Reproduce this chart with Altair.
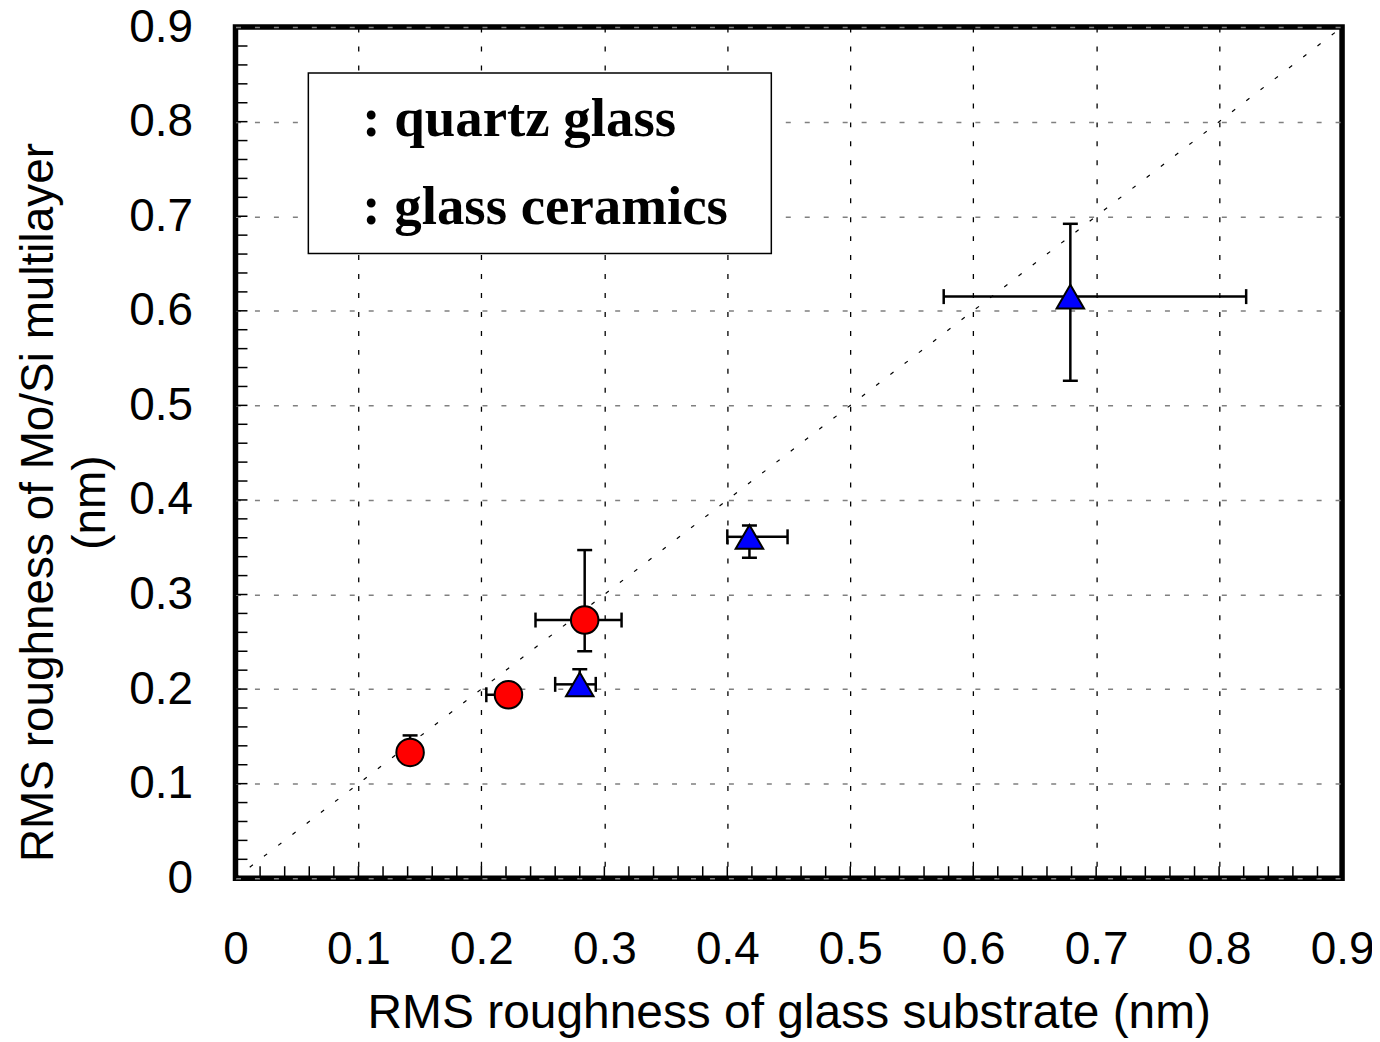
import altair as alt
import pandas as pd

# ---- data ----
quartz_x = [0.142, 0.222, 0.284]
quartz_y = [0.133, 0.194, 0.273]
quartz_xlo = [None, 0.204, 0.244]
quartz_xhi = [None, None, 0.314]
quartz_ylo = [None, None, 0.240]
quartz_yhi = [0.151, None, 0.347]

ceramics_x = [0.280, 0.418, 0.679]
ceramics_y = [0.205, 0.361, 0.615]
ceramics_xlo = [0.260, 0.400, 0.576]
ceramics_xhi = [0.293, 0.449, 0.822]
ceramics_ylo = [None, 0.339, 0.526]
ceramics_yhi = [0.221, 0.373, 0.692]

axis_values = [0, 0.1, 0.2, 0.3, 0.4, 0.5, 0.6, 0.7, 0.8, 0.9]
minor_ticks = [round(0.02 * i, 2) for i in range(1, 45)]
diag_line = [0.0, 0.9]
legend_labels = [": quartz glass", ": glass ceramics"]

x_title = "RMS roughness of glass substrate (nm)"
y_title = ["RMS roughness of Mo/Si multilayer", "(nm)"]

W, H = 1109, 853
FONT = "Liberation Sans"

# ---- tables ----
series = [
    ("quartz glass", quartz_x, quartz_y, quartz_xlo, quartz_xhi, quartz_ylo, quartz_yhi),
    ("glass ceramics", ceramics_x, ceramics_y, ceramics_xlo, ceramics_xhi, ceramics_ylo, ceramics_yhi),
]
pts, hbars, vbars, hcaps, vcaps = [], [], [], [], []
for name, xs_, ys_, xlo, xhi, ylo, yhi in series:
    for i in range(len(xs_)):
        x, y = xs_[i], ys_[i]
        pts.append({"s": name, "x": x, "y": y})
        for e in (xlo[i], xhi[i]):
            if e is not None:
                hbars.append({"x": x, "x2": e, "y": y})
                hcaps.append({"x": e, "y": y})
        for e in (ylo[i], yhi[i]):
            if e is not None:
                vbars.append({"x": x, "y": y, "y2": e})
                vcaps.append({"x": x, "y": e})

pts = pd.DataFrame(pts)
hbars = pd.DataFrame(hbars)
vbars = pd.DataFrame(vbars)
hcaps = pd.DataFrame(hcaps)
vcaps = pd.DataFrame(vcaps)
diag = pd.DataFrame({"x": [diag_line[0]], "y": [diag_line[0]], "x2": [diag_line[1]], "y2": [diag_line[1]]})
ticks = pd.DataFrame({"t": minor_ticks})
one = pd.DataFrame({"a": [0]})

xs = alt.Scale(domain=[0, 0.9], nice=False, zero=False)
ys = alt.Scale(domain=[0, 0.9], nice=False, zero=False)
lab = "datum.value == 0 ? '0' : format(datum.value, '.1f')"

x_axis = alt.Axis(
    values=axis_values, labelExpr=lab, labelFontSize=46, labelFont=FONT, labelColor="black",
    labelPadding=49, labelFlush=False, labelOverlap=False, ticks=False, domain=False,
    grid=True, gridColor="black", gridDash=[5, 14], gridWidth=1.3,
    title=x_title, titleFontSize=48, titleFont=FONT, titleFontWeight="normal", titleColor="black",
    titleY=150, titleBaseline="alphabetic",
)
y_axis = alt.Axis(
    values=axis_values, labelExpr=lab, labelFontSize=46, labelFont=FONT, labelColor="black",
    labelPadding=43, labelFlush=False, labelOverlap=False, ticks=False, domain=False,
    grid=True, gridColor="#808080", gridDash=[5, 14], gridWidth=1.5,
    title=y_title, titleFontSize=46, titleFont=FONT, titleFontWeight="normal", titleColor="black",
    titleAngle=270, titleX=-183, titleY=476, titleAlign="center", titleBaseline="alphabetic",
    titleLineHeight=52,
)


def X(field):
    return alt.X(field, scale=xs, axis=x_axis)


def Y(field):
    return alt.Y(field, scale=ys, axis=y_axis)


base_pts = alt.Chart(pts)

diag_layer = alt.Chart(diag).mark_rule(color="black", strokeWidth=1.2, strokeDash=[4, 14]).encode(
    x=X("x:Q"), y=Y("y:Q"), x2="x2:Q", y2="y2:Q",
)

legend_box = alt.Chart(one).mark_rect(fill="white", stroke="black", strokeWidth=1.5).encode(
    x=alt.value(73), x2=alt.value(537), y=alt.value(46), y2=alt.value(227)
)
legend_t1 = alt.Chart(one).mark_text(
    text=legend_labels[0], align="left", baseline="alphabetic", font="Liberation Serif",
    fontWeight="bold", fontSize=55, color="black"
).encode(x=alt.value(127), y=alt.value(109))
legend_t2 = alt.Chart(one).mark_text(
    text=legend_labels[1], align="left", baseline="alphabetic", font="Liberation Serif",
    fontWeight="bold", fontSize=55, color="black"
).encode(x=alt.value(127), y=alt.value(197))

xticks = alt.Chart(ticks).mark_rule(color="black", strokeWidth=1.5).encode(
    x=X("t:Q"), y=alt.value(H), y2=alt.value(H - 12)
)
yticks = alt.Chart(ticks).mark_rule(color="black", strokeWidth=1.5).encode(
    y=Y("t:Q"), x=alt.value(0), x2=alt.value(12)
)

hbar_layer = alt.Chart(hbars).mark_rule(color="black", strokeWidth=2.5).encode(
    x=X("x:Q"), x2="x2:Q", y=Y("y:Q")
)
vbar_layer = alt.Chart(vbars).mark_rule(color="black", strokeWidth=2.5).encode(
    x=X("x:Q"), y=Y("y:Q"), y2="y2:Q"
)
hcap_layer = alt.Chart(hcaps).mark_tick(color="black", orient="vertical", size=15, thickness=2.5, opacity=1).encode(
    x=X("x:Q"), y=Y("y:Q")
)
vcap_layer = alt.Chart(vcaps).mark_tick(color="black", orient="horizontal", size=15, thickness=2.5, opacity=1).encode(
    x=X("x:Q"), y=Y("y:Q")
)

quartz_layer = base_pts.transform_filter(alt.datum.s == "quartz glass").mark_point(
    shape="circle", filled=True, fill="#ff0000", stroke="black", strokeWidth=2, size=760, opacity=1
).encode(x=X("x:Q"), y=Y("y:Q"))
ceramics_layer = base_pts.transform_filter(alt.datum.s == "glass ceramics").mark_point(
    shape="triangle-up", filled=True, fill="#0000ff", stroke="black", strokeWidth=2, size=760, opacity=1
).encode(x=X("x:Q"), y=Y("y:Q"))

chart = alt.layer(
    diag_layer, legend_box, legend_t1, legend_t2, xticks, yticks,
    hbar_layer, vbar_layer, hcap_layer, vcap_layer, quartz_layer, ceramics_layer,
).properties(
    width=W, height=H,
    background="white",
    autosize=alt.AutoSizeParams(type="none"),
    padding={"left": 228, "top": 18, "right": 30, "bottom": 160},
).configure_view(
    stroke="black", strokeWidth=5.5
)

chart.save("out.html", embed_options={"renderer": "svg", "actions": False})
